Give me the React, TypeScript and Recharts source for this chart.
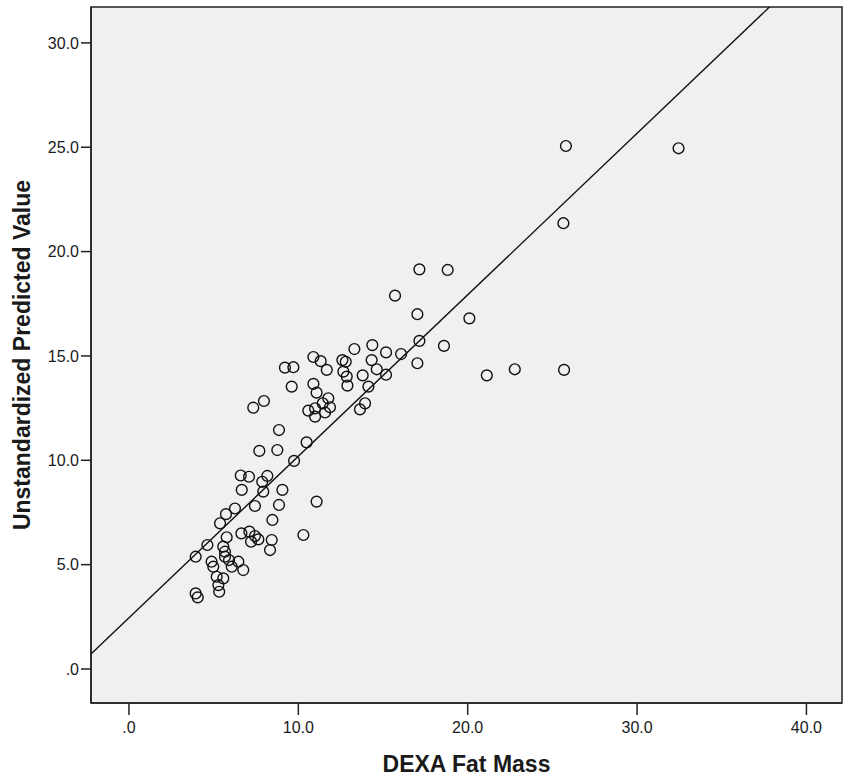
import {
  ReferenceArea,
  ReferenceLine,
  Scatter,
  ScatterChart,
  XAxis,
  YAxis,
} from 'recharts';

// DEXA fat mass (x) vs unstandardized predicted value (y)
const fatMass = [
  25.8, 32.45, 25.65, 17.15, 18.82, 15.71, 17.03, 20.1, 17.15, 18.6,
  14.37, 15.18, 16.07, 17.03, 14.33, 14.63, 15.18, 13.8, 14.14, 21.13,
  22.78, 25.69, 13.31, 13.94, 13.64, 12.6, 12.8, 12.66, 12.86, 12.9,
  10.89, 11.32, 11.68, 9.21, 9.71, 9.61, 10.89, 11.08, 11.77, 11.87,
  11.44, 11.58, 10.59, 10.99, 10.99, 7.34, 7.97, 8.86, 7.7, 8.76,
  10.49, 9.75, 6.6, 7.09, 8.17, 7.87, 6.66, 7.93, 9.06, 7.44,
  8.86, 11.08, 6.26, 5.73, 5.38, 8.47, 10.3, 6.64, 7.11, 7.44,
  7.21, 7.64, 8.43, 8.33, 5.77, 5.57, 5.67, 5.67, 5.91, 6.46,
  6.75, 6.07, 4.88, 4.98, 5.18, 5.57, 5.28, 5.33, 3.94, 4.06,
  3.94, 4.63,
];
const predicted = [
  25.06, 24.95, 21.36, 19.15, 19.12, 17.89, 17.0, 16.8, 15.72, 15.48,
  15.52, 15.17, 15.09, 14.65, 14.8, 14.36, 14.1, 14.07, 13.53, 14.07,
  14.36, 14.33, 15.33, 12.73, 12.44, 14.8, 14.72, 14.25, 14.01, 13.58,
  14.95, 14.75, 14.33, 14.44, 14.46, 13.53, 13.66, 13.24, 12.97, 12.54,
  12.73, 12.29, 12.38, 12.49, 12.09, 12.52, 12.84, 11.45, 10.45, 10.49,
  10.86, 9.97, 9.27, 9.21, 9.25, 8.97, 8.58, 8.5, 8.58, 7.81,
  7.86, 8.02, 7.69, 7.42, 6.98, 7.14, 6.42, 6.5, 6.58, 6.37,
  6.1, 6.21, 6.18, 5.7, 6.31, 5.86, 5.62, 5.38, 5.22, 5.14,
  4.74, 4.9, 5.14, 4.9, 4.42, 4.34, 4.02, 3.7, 3.62, 3.43,
  5.38, 5.94,
];

const xTicks = [0, 10, 20, 30, 40];
const yTicks = [0, 5, 10, 15, 20, 25, 30];
const xDomain: [number, number] = [-2.24, 42.1];
const yDomain: [number, number] = [-1.63, 31.72];

// fit line shown on the plot
const fitIntercept = 2.45;
const fitSlope = 0.774;
const rSquared = '0.771';

const points = fatMass.map((x, i) => ({ x, y: predicted[i] }));

const fmt = (v: number) => (v === 0 ? '.0' : v.toFixed(1));

const font = 'Arial, "Liberation Sans", sans-serif';

const Ring = (props: any) => (
  <circle cx={props.cx} cy={props.cy} r={5.4} fill="none" stroke="#111" strokeWidth={1.4} />
);

export default function App() {
  const xEnd = (yDomain[1] - fitIntercept) / fitSlope;
  const lineSeg = [
    { x: xDomain[0], y: fitIntercept + fitSlope * xDomain[0] },
    { x: xEnd, y: yDomain[1] },
  ];

  return (
    <div style={{ position: 'absolute', left: 0, top: 0, background: '#fff' }}>
      <ScatterChart width={850} height={783} margin={{ top: 7, right: 8, left: 0, bottom: 0 }}>
        <ReferenceArea
          x1={xDomain[0]}
          x2={xDomain[1]}
          y1={yDomain[0]}
          y2={yDomain[1]}
          fill="#f0f0f0"
          fillOpacity={1}
          stroke="#222"
          strokeWidth={1.5}
        />
        <XAxis
          type="number"
          dataKey="x"
          domain={xDomain}
          ticks={xTicks}
          allowDataOverflow
          tickFormatter={fmt}
          height={80}
          tickSize={12}
          tickMargin={7}
          axisLine={{ stroke: '#222', strokeWidth: 1.5 }}
          tickLine={{ stroke: '#222', strokeWidth: 1.5 }}
          tick={{ fill: '#1a1a1a', fontSize: 16, fontFamily: font }}
          label={{
            value: 'DEXA Fat Mass',
            position: 'insideBottom',
            offset: 11,
            fill: '#1a1a1a',
            fontSize: 23,
            fontWeight: 700,
            fontFamily: font,
          }}
        />
        <YAxis
          type="number"
          dataKey="y"
          domain={yDomain}
          ticks={yTicks}
          allowDataOverflow
          tickFormatter={fmt}
          width={91}
          tickSize={10}
          axisLine={{ stroke: '#222', strokeWidth: 1.5 }}
          tickLine={{ stroke: '#222', strokeWidth: 1.5 }}
          tick={{ fill: '#1a1a1a', fontSize: 16, fontFamily: font }}
          label={{
            value: 'Unstandardized Predicted Value',
            angle: -90,
            position: 'insideLeft',
            offset: 22,
            style: { textAnchor: 'middle' },
            fill: '#1a1a1a',
            fontSize: 23,
            fontWeight: 700,
            fontFamily: font,
          }}
        />
        <ReferenceLine segment={lineSeg} stroke="#111" strokeWidth={1.4} />
        <Scatter data={points} shape={<Ring />} isAnimationActive={false} />
        <text x={268} y={82} fontSize={15.5} fontFamily={font} fill="#1a1a1a">
          R<tspan dy={-7} fontSize={11}>2</tspan>
          <tspan dy={7}> Linear = {rSquared}</tspan>
        </text>
      </ScatterChart>
    </div>
  );
}
